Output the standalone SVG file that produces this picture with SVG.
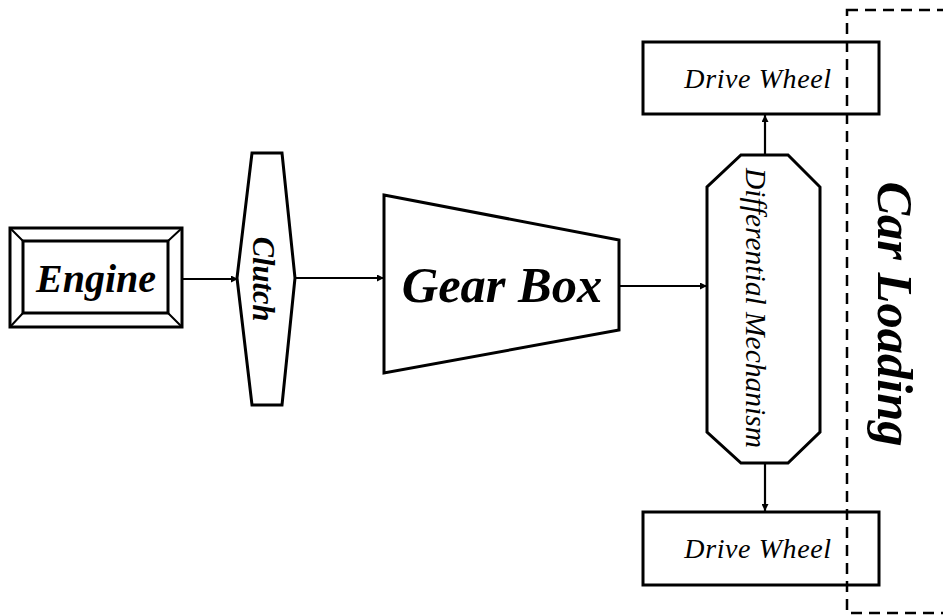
<svg xmlns="http://www.w3.org/2000/svg" width="943" height="616" viewBox="0 0 943 616">
<defs>
<marker id="arr" viewBox="0 0 10 10" refX="10" refY="5" markerWidth="9" markerHeight="7" markerUnits="userSpaceOnUse" orient="auto">
<path d="M0,0 L10,5 L0,10 z" fill="#000"/>
</marker>
<style>
.shape{fill:#fff;stroke:#000;stroke-width:3;stroke-linejoin:miter}
.conn{stroke:#000;stroke-width:2.2;fill:none;marker-end:url(#arr)}
</style>
</defs>
<rect x="0" y="0" width="943" height="616" fill="#fff"/>
<g id="engine">
<rect class="shape" x="10" y="228" width="172" height="99"/>
<rect class="shape" x="23" y="241" width="145" height="72" stroke-width="2.5"/>
<path d="M10,228 L23,241 M182,228 L168,241 M10,327 L23,313 M182,327 L168,313" stroke="#000" stroke-width="2"/>
<text font-family="Liberation Serif, serif" font-weight="bold" font-style="italic" x="96" y="292" font-size="40" text-anchor="middle">Engine</text>
</g>
<g id="clutch">
<polygon class="shape" points="252,153 282,153 295,278 282,405 252,405 237,278"/>
<text font-family="Liberation Serif, serif" font-weight="bold" font-style="italic" font-size="30.5" text-anchor="middle" transform="translate(253,279) rotate(90)">Clutch</text>
</g>
<g id="gearbox">
<polygon class="shape" points="384,195 619,240 619,330 384,373"/>
<text font-family="Liberation Serif, serif" font-weight="bold" font-style="italic" x="502" y="302" font-size="50.5" text-anchor="middle">Gear Box</text>
</g>
<g id="differential">
<polygon class="shape" points="741,155 788,155 820,187 820,432 788,463 741,463 707,432 707,187"/>
<text font-family="Liberation Serif, serif" font-style="italic" font-size="29.5" text-anchor="middle" transform="translate(746,308) rotate(90)">Differential Mechanism</text>
</g>
<g id="wheel-top">
<rect class="shape" x="643" y="42" width="236" height="72"/>
<text font-family="Liberation Serif, serif" font-style="italic" x="758" y="88" font-size="28" letter-spacing="0.6" text-anchor="middle">Drive Wheel</text>
</g>
<g id="wheel-bottom">
<rect class="shape" x="643" y="512" width="236" height="73"/>
<text font-family="Liberation Serif, serif" font-style="italic" x="758" y="558" font-size="28" letter-spacing="0.6" text-anchor="middle">Drive Wheel</text>
</g>
<g id="car-loading">
<rect x="847" y="10" width="120" height="603" fill="none" stroke="#000" stroke-width="2.5" stroke-dasharray="11 7"/>
<text font-family="Liberation Serif, serif" font-weight="bold" font-style="italic" font-size="50.5" text-anchor="middle" transform="translate(878,314) rotate(90)">Car Loading</text>
</g>
<g id="connectors">
<line class="conn" x1="182" y1="279" x2="238" y2="279"/>
<line class="conn" x1="295" y1="278" x2="384" y2="278"/>
<line class="conn" x1="619" y1="286" x2="707" y2="286"/>
<line class="conn" x1="765" y1="155" x2="765" y2="115"/>
<line class="conn" x1="765" y1="463" x2="765" y2="511"/>
</g>
</svg>
